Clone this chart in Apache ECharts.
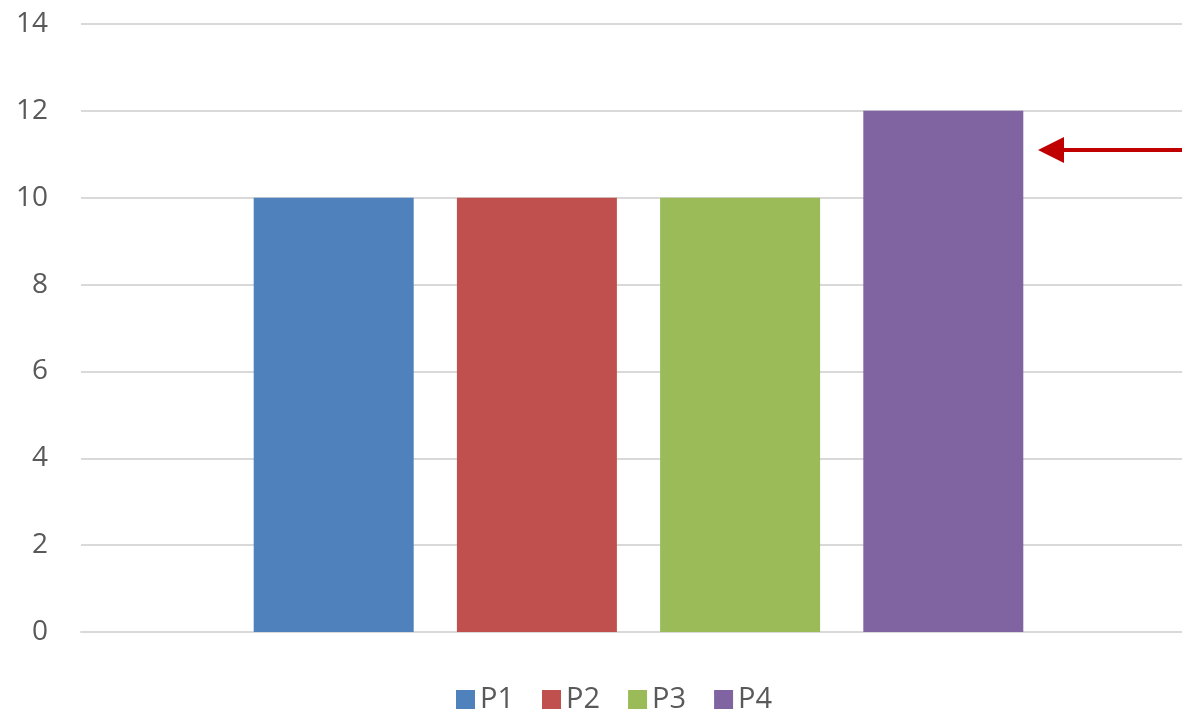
<!DOCTYPE html>
<html><head><meta charset="utf-8">
<script src="https://cdn.jsdelivr.net/npm/echarts@6/dist/echarts.min.js"></script>
<style>html,body{margin:0;padding:0;background:#fff;overflow:hidden}#c{width:1196px;height:713px}</style>
</head><body><div id="c"></div>
<script>
const categories = [''];
const seriesNames = ['P1', 'P2', 'P3', 'P4'];
const seriesValues = [[10], [10], [10], [12]];
const seriesColors = ['#4F81BD', '#C0504D', '#9BBB59', '#8064A2'];
const arrowValue = 11.1;

const chart = echarts.init(document.getElementById('c'));
const font = '"Open Sans", "Noto Sans", sans-serif';
chart.setOption({
  animation: false,
  textStyle: { fontFamily: font },
  grid: { left: 81, right: 0, top: 24, height: 608, containLabel: false },
  legend: {
    top: 680, left: 451,
    itemWidth: 19, itemHeight: 19, itemGap: 28,
    icon: 'rect',
    textStyle: { fontSize: 29, color: '#595959', fontFamily: font },
    data: seriesNames
  },
  xAxis: {
    type: 'category', data: categories,
    axisLine: { lineStyle: { color: '#d9d9d9', width: 2 } },
    axisTick: { show: false }, axisLabel: { show: false }
  },
  yAxis: {
    type: 'value', min: 0, max: 14, interval: 2,
    axisLine: { show: false }, axisTick: { show: false },
    axisLabel: { fontSize: 28, color: '#595959', margin: 33, fontFamily: font },
    splitLine: { lineStyle: { color: '#d9d9d9', width: 2 } }
  },
  series: seriesNames.map((n, i) => ({
    name: n, type: 'bar', data: seriesValues[i],
    barWidth: 160, barGap: '27%',
    itemStyle: { color: seriesColors[i] }
  }))
});
const y = chart.convertToPixel({ yAxisIndex: 0 }, arrowValue);
chart.setOption({
  graphic: [
    { type: 'line', shape: { x1: 1060, y1: y, x2: 1182, y2: y }, style: { stroke: '#C00000', lineWidth: 4 } },
    { type: 'polygon', shape: { points: [[1038, y], [1064, y - 13], [1064, y + 13]] }, style: { fill: '#C00000' } }
  ]
});
</script></body></html>
